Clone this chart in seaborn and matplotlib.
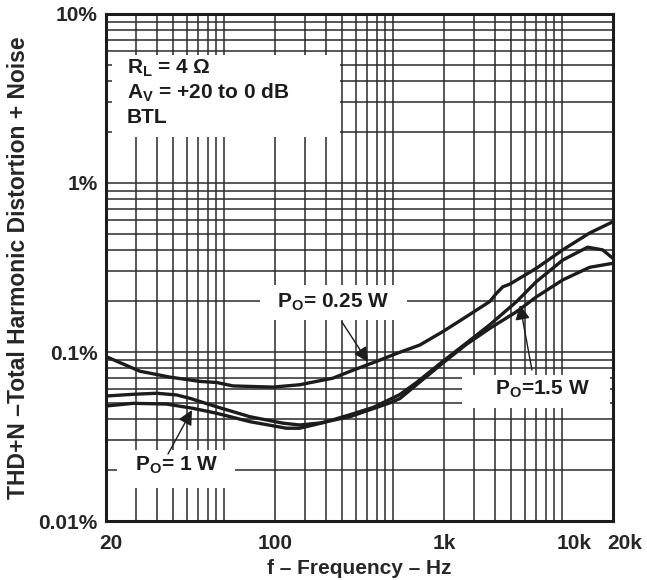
import numpy as np
import pandas as pd
import matplotlib
matplotlib.use('Agg')
import matplotlib.pyplot as plt
import matplotlib.transforms as mtransforms
from matplotlib.patches import Rectangle
import seaborn as sns

# THD+N (%) vs frequency (Hz)
freq_025 = [20, 27.6, 36.8, 48.9, 57.4, 67, 98, 140, 176, 220, 289, 399, 524, 720,
            984, 1486, 2243, 2518, 2818, 3187, 5100, 8110, 13120, 20000]
thd_025 = [0.094, 0.077, 0.071, 0.067, 0.066, 0.063, 0.062, 0.064, 0.067, 0.070, 0.078, 0.088,
           0.098, 0.110, 0.132, 0.162, 0.199, 0.222, 0.243, 0.252, 0.313, 0.402, 0.506, 0.590]

freq_1 = [20, 25.9, 35.6, 45.9, 57.4, 78.8, 117, 140, 193, 277, 381, 548, 688, 984,
          1486, 2243, 3589, 5100, 8110, 12650, 16600, 20000]
thd_1 = [0.0479, 0.0497, 0.0492, 0.0464, 0.0434, 0.0387, 0.0354, 0.0354, 0.0382, 0.0425, 0.047,
         0.056, 0.066, 0.088, 0.113, 0.145, 0.1985, 0.261, 0.350, 0.417, 0.402, 0.358]

freq_15 = [20, 25.9, 32.4, 39.2, 44.5, 57.4, 78.8, 112, 140, 184, 277, 478, 548, 688,
           984, 1486, 2243, 3589, 5100, 8110, 13120, 20000]
thd_15 = [0.0549, 0.0562, 0.0570, 0.0557, 0.0532, 0.0474, 0.0414, 0.0379, 0.0370, 0.0380, 0.0414,
          0.0500, 0.053, 0.064, 0.086, 0.111, 0.138, 0.173, 0.212, 0.267, 0.317, 0.335]

# x tick labels and where they sit along the axis (in grid decades)
tick_freqs = [20, 100, 1000, 10000, 20000]
tick_labels = ['20', '100', '1k', '10k', '20k']
tick_pos = [0, 1, 2, 2.773, 3]

y_ticks = [0.01, 0.1, 1, 10]
y_labels = ['0.01%', '0.1%', '1%', '10%']

df = pd.concat([
    pd.DataFrame({'f': freq_025, 'thd': thd_025, 'po': '0.25 W'}),
    pd.DataFrame({'f': freq_1, 'thd': thd_1, 'po': '1 W'}),
    pd.DataFrame({'f': freq_15, 'thd': thd_15, 'po': '1.5 W'}),
])

# the datasheet's frequency axis is not a plain log axis -> piecewise log scale
LF = np.log10(tick_freqs)
G = np.array(tick_pos, float)


def _interp(x, xp, fp):
    x = np.asarray(np.ma.filled(np.ma.asarray(x, dtype=float), np.nan), float)
    shape = x.shape
    x = np.atleast_1d(x)
    y = np.interp(x, xp, fp)
    lo = x < xp[0]
    hi = x > xp[-1]
    y[lo] = fp[0] + (x[lo] - xp[0]) * (fp[1] - fp[0]) / (xp[1] - xp[0])
    y[hi] = fp[-1] + (x[hi] - xp[-1]) * (fp[-1] - fp[-2]) / (xp[-1] - xp[-2])
    return y.reshape(shape)


def fwd(f):
    f = np.asarray(np.ma.filled(np.ma.asarray(f, dtype=float), np.nan), float)
    with np.errstate(divide='ignore', invalid='ignore'):
        lf = np.log10(np.where(f > 0, f, 1e-12))
    return _interp(lf, LF, G)


def inv(g):
    return 10 ** _interp(g, G, LF)


sns.set_style('white')
plt.rcParams['font.family'] = ['Liberation Sans', 'DejaVu Sans']
plt.rcParams['font.weight'] = 'bold'
plt.rcParams['mathtext.fontset'] = 'custom'
plt.rcParams['mathtext.rm'] = 'Liberation Sans:bold'
plt.rcParams['mathtext.it'] = 'Liberation Sans:bold'
plt.rcParams['mathtext.bf'] = 'Liberation Sans:bold'

ink = '#1c1c1c'
fs = 15

fig = plt.figure(figsize=(6.47, 5.80), dpi=100)
ax = fig.add_axes([0.1638, 0.1017, 0.7836, 0.8742])
ax.set_xscale('function', functions=(fwd, inv))
ax.set_yscale('log')

sns.lineplot(data=df, x='f', y='thd', hue='po', palette=[ink] * 3, linewidth=2.4,
             legend=False, estimator=None, sort=True, ax=ax, zorder=4)

ax.set_xlim(20, 20000)
ax.set_ylim(0.01, 10)

# grid: vertical lines at 1, 1.5, 2 ... 5 of each grid decade
grid_g = [d + np.log10(m) for d in range(3) for m in (1, 1.5, 2, 2.5, 3, 3.5, 4, 4.5, 5)]
ax.set_xticks(inv(np.array(grid_g)), minor=True)
ax.set_xticks(tick_freqs)
ax.set_xticklabels(tick_labels)
ax.xaxis.remove_overlapping_locs = False
ax.set_yticks(y_ticks)
ax.set_yticklabels(y_labels)
ax.yaxis.set_minor_locator(matplotlib.ticker.LogLocator(base=10, subs=np.arange(2, 10)))
ax.yaxis.set_minor_formatter(matplotlib.ticker.NullFormatter())

ax.grid(False)
ax.xaxis.grid(True, which='minor', color='#2a2a2a', linewidth=1.1, zorder=1)
ax.yaxis.grid(True, which='both', color='#2a2a2a', linewidth=1.1, zorder=1)
ax.set_axisbelow(True)
ax.tick_params(which='both', length=0)
ax.tick_params(axis='x', pad=9, labelsize=fs)
ax.tick_params(axis='y', pad=6, labelsize=fs)

# nudge the end labels like on the datasheet
shifts = {'20': 5, '20k': 12}
for tick in ax.xaxis.get_major_ticks():
    dx = shifts.get(tick.label1.get_text(), 0)
    if dx:
        tick.label1.set_transform(tick.label1.get_transform() +
                                  mtransforms.ScaledTranslation(dx / 100, 0, fig.dpi_scale_trans))

for sp in ax.spines.values():
    sp.set_linewidth(2.2)
    sp.set_color(ink)
    sp.set_zorder(5)

ax.set_xlabel('f – Frequency – Hz', fontsize=fs, fontweight='bold', labelpad=5)
ax.set_ylabel('THD+N –Total Harmonic Distortion + Noise', fontsize=16.5, fontweight='bold', labelpad=6)

# white boxes behind the texts
boxes = [(0.0118, 0.7574, 0.4497, 0.1617),
         (0.3037, 0.3964, 0.2900, 0.0691),
         (0.0217, 0.0651, 0.2327, 0.0749),
         (0.7022, 0.2229, 0.2919, 0.0651)]
for x0, y0, w, h in boxes:
    ax.add_patch(Rectangle((x0, y0), w, h, transform=ax.transAxes, facecolor='white',
                           edgecolor='none', zorder=3))

tkw = dict(transform=ax.transAxes, fontsize=fs, fontweight='bold', color=ink, zorder=6)
ax.text(0.041, 0.8935, r'R$_{\rm L}$ = 4 Ω', ha='left', va='center', **tkw)
ax.text(0.041, 0.8442, r'A$_{\rm V}$ = +20 to 0 dB', ha='left', va='center', **tkw)
ax.text(0.041, 0.7949, 'BTL', ha='left', va='center', **tkw)

ax.text(0.4477, 0.432, r'P$_{\rm O}$= 0.25 W', ha='center', va='center', **tkw)
ax.text(0.140, 0.110, r'P$_{\rm O}$= 1 W', ha='center', va='center', **tkw)
ax.text(0.860, 0.260, r'P$_{\rm O}$=1.5 W', ha='center', va='center', **tkw)

akw = dict(arrowstyle='-|>', mutation_scale=22, color=ink, lw=1.0, shrinkA=0, shrinkB=0)
for tail, tip in [((0.4655, 0.3925), (0.5168, 0.3136)),
                  ((0.1223, 0.1321), (0.1696, 0.2189)),
                  ((0.8402, 0.2978), (0.8166, 0.4260))]:
    ax.annotate('', xy=tip, xytext=tail, xycoords='axes fraction',
                textcoords='axes fraction', arrowprops=akw, zorder=6)

fig.savefig('out.png', dpi=100)
